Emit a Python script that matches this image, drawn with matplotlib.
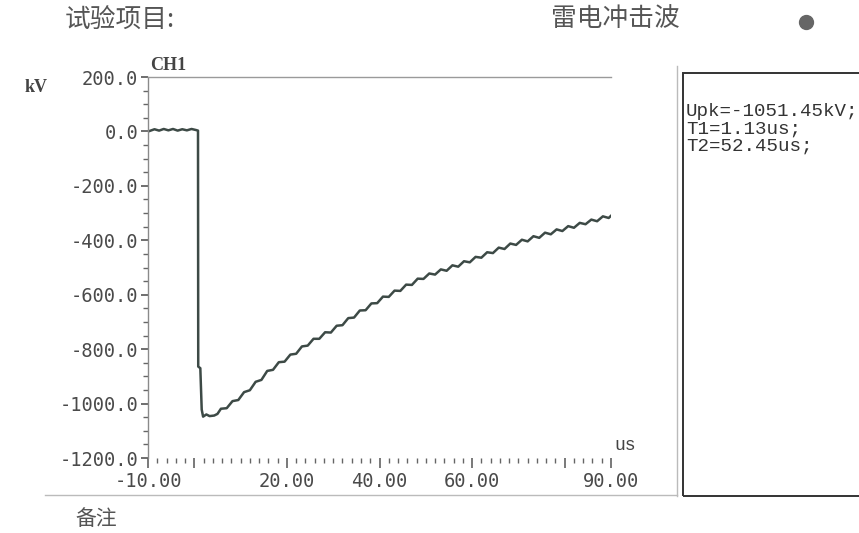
import matplotlib
matplotlib.use("Agg")
import matplotlib.pyplot as plt
from matplotlib.lines import Line2D
from matplotlib.patches import Rectangle
from matplotlib.ticker import MultipleLocator, FixedLocator

W, H = 859, 533

# ---- data ----
t_us = [-9.6, -8.6, -7.6, -6.6, -5.6, -4.6, -3.6, -2.6, -1.6, -0.6, 0.4, 0.8,
        0.85, 1.3, 1.6, 1.9, 2.6, 3.3, 4.3, 5.0,
        5.75, 7.0, 8.25, 9.5, 10.75, 12.0, 13.25, 14.5, 15.75, 17.0,
        18.25, 19.5, 20.75, 22.0, 23.25, 24.5, 25.75, 27.0, 28.25, 29.5,
        30.75, 32.0, 33.25, 34.5, 35.75, 37.0, 38.25, 39.5, 40.75, 42.0,
        43.25, 44.5, 45.75, 47.0, 48.25, 49.5, 50.75, 52.0, 53.25, 54.5,
        55.75, 57.0, 58.25, 59.5, 60.75, 62.0, 63.25, 64.5, 65.75, 67.0,
        68.25, 69.5, 70.75, 72.0, 73.25, 74.5, 75.75, 77.0, 78.25, 79.5,
        80.75, 82.0, 83.25, 84.5, 85.75, 87.0, 88.25, 89.5, 90.0]
kv = [2, 8, 3, 9, 4, 9, 3, 8, 4, 9, 5, 3,
      -864, -870, -1022, -1048, -1040, -1046, -1044, -1038,
      -1019, -1017, -991, -987, -958, -951, -920, -913, -880, -876,
      -848, -846, -820, -817, -790, -787, -762, -762, -738, -739,
      -714, -712, -686, -684, -658, -657, -632, -631, -607, -608,
      -585, -586, -563, -564, -541, -542, -522, -526, -507, -512,
      -492, -497, -477, -481, -461, -464, -444, -447, -427, -432,
      -412, -417, -398, -404, -385, -391, -372, -378, -360, -366,
      -348, -354, -336, -341, -324, -330, -312, -318, -310]

x_major = [-10, 0, 20, 40, 60, 80, 90]
x_labels = ['-10.00', '', '20.00', '40.00', '60.00', '', '90.00']
y_major = [200, 0, -200, -400, -600, -800, -1000, -1200]

title_left = "试验项目:"
title_mid = "雷电冲击波"
note = "备注"
info_lines = ["Upk=-1051.45kV;", "T1=1.13us;", "T2=52.45us;"]

def fx(px):
    return px / W

def fy(py):
    return 1 - py / H

fig = plt.figure(figsize=(W / 100, H / 100), dpi=100)
fig.patch.set_facecolor('white')

ax = fig.add_axes([fx(148), fy(458), (611 - 148) / W, (458 - 77) / H])
ax.plot(t_us, kv, color='#3d4a46', lw=1.8, solid_joinstyle='round')
ax.set_xlim(-10, 90)
ax.set_ylim(-1200, 200)

for s in ['right', 'bottom']:
    ax.spines[s].set_visible(False)
ax.spines['left'].set_color('#8a8a8a')
ax.spines['left'].set_linewidth(1.0)
ax.spines['top'].set_color('#9a9a9a')
ax.spines['top'].set_linewidth(1.0)
ax.spines['top'].set_linestyle((0, (2, 1)))

ax.xaxis.set_major_locator(FixedLocator(x_major))
ax.set_xticklabels(x_labels)
ax.xaxis.set_minor_locator(MultipleLocator(2))
ax.yaxis.set_major_locator(FixedLocator(y_major))
ax.set_yticklabels(['%.1f' % v for v in y_major])
ax.yaxis.set_minor_locator(MultipleLocator(50))

ax.tick_params(axis='x', which='major', direction='out', length=7, width=1.1,
               color='#555555', pad=3, labelsize=13.5, labelcolor='#4a4a4a')
ax.tick_params(axis='x', which='minor', direction='out', length=3.5, width=1.0,
               color='#666666')
ax.tick_params(axis='y', which='major', direction='out', length=5, width=1.2,
               color='#555555', pad=2, labelsize=13.5, labelcolor='#4a4a4a')
ax.tick_params(axis='y', which='minor', direction='out', length=3.5, width=1.0,
               color='#666666')
for lab in ax.get_xticklabels() + ax.get_yticklabels():
    lab.set_family('DejaVu Sans Mono')

# header texts
cjk = ['Noto Sans CJK SC', 'DejaVu Sans']
fig.text(fx(65), fy(21), title_left, family=cjk, fontsize=18.5, color='#555555',
         va='center', ha='left')
fig.text(fx(551), fy(19), title_mid, family=cjk, fontsize=18.5, color='#555555',
         va='center', ha='left')
fig.text(fx(75), fy(519), note, family=cjk, fontsize=15, color='#555555',
         va='center', ha='left')
fig.lines.append(Line2D([fx(806)], [fy(22)], transform=fig.transFigure,
                        marker='o', markersize=10, color='#666666', lw=0))

# axis annotations
fig.text(fx(25), fy(88), 'kV', family='Liberation Serif', fontweight='bold',
         fontsize=13, color='#444444', va='center', ha='left')
fig.text(fx(150), fy(66), 'CH1', family='Liberation Serif', fontweight='bold',
         fontsize=13, color='#444444', va='center', ha='left')
fig.text(fx(614), fy(445), 'us', family='Liberation Mono', fontsize=13,
         color='#444444', va='center', ha='left')

# panel borders
fig.lines.append(Line2D([fx(677), fx(677)], [fy(66), fy(496)],
                        transform=fig.transFigure, color='#bbbbbb', lw=1.0))
fig.lines.append(Line2D([fx(45), fx(677)], [fy(495), fy(495)],
                        transform=fig.transFigure, color='#bbbbbb', lw=1.0))

# info box
fig.patches.append(Rectangle((fx(683), fy(496)), (W + 10 - 683) / W, (496 - 73) / H,
                             transform=fig.transFigure, fill=False,
                             edgecolor='#333333', lw=1.4))
for i, line in enumerate(info_lines):
    fig.text(fx(686), fy(112 + 17 * i), line, family='Liberation Mono',
             fontsize=13.8, color='#333333', va='center', ha='left')

fig.savefig('out.png', dpi=100, facecolor='white')
